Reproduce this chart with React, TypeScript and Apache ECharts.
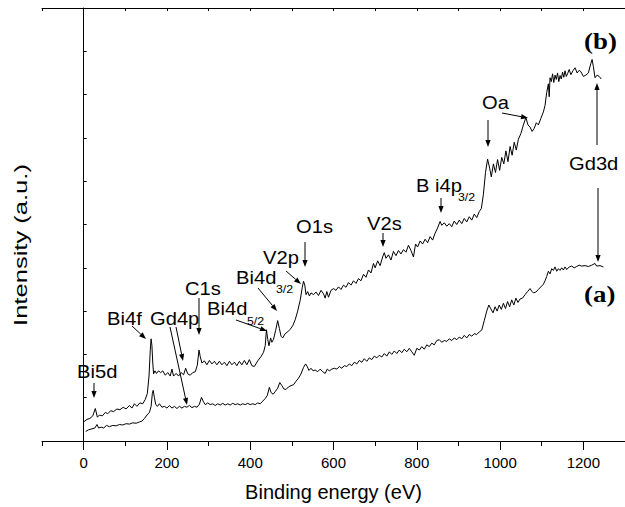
import React, { useEffect, useRef } from "react";
import * as echarts from "echarts";

// Curve (b): upper spectrum
const energyB = [0, 8, 15, 22, 28, 33, 38, 45, 52, 58, 65, 72, 80, 87, 95, 102, 110, 116, 122, 128, 135, 142, 148, 153, 157, 160, 162, 164, 166, 168, 171, 175, 180, 185, 190, 196, 202, 208, 212, 216, 222, 228, 234, 240, 245, 250, 256, 262, 268, 273, 277, 280, 284, 290, 296, 302, 308, 314, 320, 326, 332, 338, 344, 350, 356, 362, 368, 374, 380, 386, 392, 398, 404, 410, 418, 426, 432, 436, 439, 442, 445, 449, 452, 456, 461, 466, 470, 474, 478, 484, 490, 496, 502, 508, 514, 520, 525, 528, 531, 534, 538, 542, 546, 552, 558, 564, 570, 576, 580, 584, 588, 594, 600, 606, 612, 618, 624, 630, 636, 642, 648, 654, 660, 666, 672, 678, 684, 690, 696, 700, 706, 712, 718, 722, 726, 732, 738, 744, 750, 756, 762, 768, 774, 780, 786, 792, 797, 802, 808, 814, 820, 826, 832, 838, 844, 850, 856, 860, 866, 872, 878, 884, 890, 896, 902, 908, 914, 920, 926, 932, 938, 944, 950, 955, 960, 965, 970, 975, 979, 984, 989, 994, 999, 1004, 1009, 1014, 1019, 1024, 1029, 1034, 1039, 1044, 1050, 1056, 1062, 1067, 1072, 1077, 1082, 1087, 1092, 1098, 1104, 1108, 1112, 1116, 1118, 1120, 1123, 1126, 1129, 1132, 1135, 1138, 1141, 1144, 1147, 1150, 1153, 1156, 1159, 1162, 1166, 1170, 1175, 1180, 1185, 1190, 1194, 1200, 1206, 1212, 1218, 1221, 1224, 1228, 1233, 1238, 1243];
const intensityB = [0.44, 0.5, 0.52, 0.58, 0.75, 0.55, 0.6, 0.58, 0.66, 0.63, 0.7, 0.68, 0.74, 0.72, 0.78, 0.74, 0.82, 0.76, 0.86, 0.8, 0.88, 0.86, 0.96, 1.1, 1.5, 2.1, 2.36, 2.2, 1.8, 1.55, 1.62, 1.56, 1.62, 1.58, 1.62, 1.52, 1.58, 1.5, 1.66, 1.5, 1.56, 1.5, 1.58, 1.53, 1.68, 1.55, 1.52, 1.58, 1.6, 1.75, 2.1, 1.95, 1.8, 1.85, 1.76, 1.86, 1.78, 1.84, 1.76, 1.84, 1.76, 1.82, 1.74, 1.84, 1.76, 1.82, 1.74, 1.84, 1.76, 1.86, 1.76, 1.88, 1.74, 1.72, 1.85, 1.95, 2.05, 2.2, 2.57, 2.35, 2.2, 2.38, 2.28, 2.35, 2.55, 2.78, 2.6, 2.42, 2.38, 2.48, 2.52, 2.58, 2.66, 2.8, 3.0, 3.25, 3.55, 3.69, 3.6, 3.38, 3.45, 3.35, 3.42, 3.38, 3.44, 3.36, 3.48, 3.4, 3.3, 3.45, 3.32, 3.48, 3.52, 3.48, 3.56, 3.5, 3.6, 3.55, 3.66, 3.6, 3.7, 3.64, 3.75, 3.7, 3.85, 3.78, 3.95, 3.88, 4.1, 4.0, 4.16, 4.05, 4.25, 4.35, 4.22, 4.3, 4.18, 4.38, 4.28, 4.4, 4.32, 4.42, 4.36, 4.52, 4.4, 4.25, 4.55, 4.48, 4.62, 4.55, 4.66, 4.58, 4.72, 4.64, 4.8, 4.92, 5.07, 4.98, 5.04, 4.96, 5.02, 4.95, 5.08, 5.0, 5.1, 5.02, 5.14, 5.06, 5.18, 5.1, 5.24, 5.16, 5.3, 5.37, 5.7, 6.2, 6.51, 6.3, 6.1, 6.4, 6.2, 6.5, 6.25, 6.55, 6.4, 6.7, 6.45, 6.8, 6.6, 6.9, 6.72, 6.97, 7.1, 7.3, 7.47, 7.3, 7.25, 7.15, 7.22, 7.35, 7.3, 7.45, 7.6, 7.75, 8.05, 8.25, 7.95, 8.39, 8.3, 8.48, 8.28, 8.45, 8.35, 8.5, 8.3, 8.44, 8.36, 8.52, 8.4, 8.55, 8.42, 8.48, 8.58, 8.46, 8.55, 8.62, 8.5, 8.56, 8.53, 8.42, 8.45, 8.5, 8.72, 8.81, 8.65, 8.39, 8.45, 8.42, 8.36];

// Curve (a): lower spectrum
const energyA = [5, 12, 20, 27, 32, 36, 42, 48, 55, 62, 70, 78, 86, 94, 102, 110, 118, 126, 134, 140, 146, 152, 158, 162, 165, 167, 170, 173, 177, 182, 188, 194, 200, 206, 212, 218, 224, 230, 236, 242, 248, 254, 260, 266, 272, 278, 283, 287, 292, 298, 304, 310, 316, 322, 328, 334, 340, 346, 352, 358, 364, 370, 376, 382, 388, 394, 400, 406, 412, 418, 424, 430, 436, 441, 446, 450, 455, 460, 466, 471, 476, 481, 486, 492, 498, 504, 510, 516, 522, 528, 533, 537, 541, 546, 551, 556, 562, 568, 574, 580, 585, 590, 596, 602, 608, 614, 620, 626, 632, 638, 644, 650, 656, 662, 668, 674, 680, 686, 692, 698, 704, 710, 716, 722, 728, 734, 740, 746, 752, 758, 764, 770, 776, 782, 788, 794, 800, 806, 812, 818, 824, 830, 836, 842, 848, 854, 860, 866, 872, 878, 884, 890, 896, 902, 908, 914, 920, 926, 932, 938, 944, 950, 956, 962, 968, 973, 978, 983, 988, 993, 998, 1003, 1008, 1013, 1018, 1023, 1028, 1033, 1038, 1043, 1048, 1054, 1060, 1066, 1072, 1076, 1080, 1086, 1092, 1098, 1104, 1108, 1112, 1116, 1120, 1124, 1128, 1132, 1136, 1140, 1144, 1148, 1152, 1156, 1160, 1166, 1172, 1178, 1184, 1190, 1196, 1204, 1212, 1220, 1228, 1232, 1240, 1248];
const intensityA = [0.22, 0.26, 0.28, 0.3, 0.38, 0.3, 0.32, 0.3, 0.36, 0.33, 0.36, 0.35, 0.38, 0.37, 0.4, 0.39, 0.42, 0.41, 0.44, 0.46, 0.52, 0.6, 0.66, 0.8, 1.1, 1.17, 1.0, 0.85, 0.8, 0.86, 0.78, 0.8, 0.76, 0.82, 0.76, 0.8, 0.75, 0.8, 0.76, 0.8, 0.78, 0.82, 0.77, 0.8, 0.78, 0.85, 1.01, 0.92, 0.84, 0.88, 0.84, 0.86, 0.82, 0.86, 0.83, 0.87, 0.83, 0.86, 0.83, 0.87, 0.84, 0.86, 0.83, 0.86, 0.84, 0.87, 0.84, 0.86, 0.84, 0.88, 0.86, 0.92, 0.98, 1.05, 1.24, 1.12, 1.08, 1.14, 1.22, 1.35, 1.28, 1.2, 1.19, 1.25, 1.28, 1.3, 1.38, 1.45, 1.55, 1.7, 1.78, 1.72, 1.63, 1.68, 1.62, 1.64, 1.6, 1.66, 1.6, 1.56, 1.66, 1.62, 1.66, 1.68, 1.66, 1.72, 1.68, 1.74, 1.72, 1.78, 1.74, 1.82, 1.78, 1.86, 1.82, 1.9, 1.84, 1.92, 1.88, 1.96, 1.92, 1.98, 1.94, 2.02, 1.96, 2.06, 2.0, 2.08, 2.02, 2.1, 2.04, 2.12, 2.06, 2.14, 2.06, 1.98, 2.14, 2.1, 2.18, 2.12, 2.22, 2.18, 2.26, 2.22, 2.32, 2.34, 2.28, 2.32, 2.3, 2.36, 2.32, 2.38, 2.34, 2.4, 2.36, 2.44, 2.38, 2.46, 2.42, 2.48, 2.46, 2.52, 2.56, 2.78, 3.0, 3.14, 3.05, 2.96, 3.1, 3.0, 3.14, 3.04, 3.18, 3.06, 3.22, 3.1, 3.26, 3.14, 3.3, 3.2, 3.28, 3.3, 3.38, 3.45, 3.52, 3.46, 3.42, 3.44, 3.5, 3.56, 3.62, 3.7, 3.8, 3.92, 3.86, 3.98, 3.94, 4.02, 3.92, 3.98, 3.94, 4.0, 3.95, 4.02, 3.96, 4.02, 4.04, 4.0, 4.03, 4.06, 4.04, 4.05, 4.03, 4.06, 4.1, 4.04, 4.05, 4.02];

const xLabelValues = [0, 200, 400, 600, 800, 1000, 1200];
const xMinorValues = [-100, 100, 300, 500, 700, 900, 1100, 1300];

const SANS = "'Liberation Sans', Arial, Helvetica, sans-serif";
const SERIF = "'Liberation Serif', 'Times New Roman', serif";

function arrow(x1: number, y1: number, x2: number, y2: number): any[] {
  const dx = x2 - x1;
  const dy = y2 - y1;
  const L = Math.hypot(dx, dy);
  const ux = dx / L;
  const uy = dy / L;
  const hl = 7;
  const hw = 2.6;
  const bx = x2 - ux * hl;
  const by = y2 - uy * hl;
  const px = -uy * hw;
  const py = ux * hw;
  return [
    { type: "line", silent: true, z: 100, shape: { x1, y1, x2: bx, y2: by }, style: { stroke: "#000", lineWidth: 1 } },
    { type: "polygon", silent: true, z: 100, shape: { points: [[x2, y2], [bx + px, by + py], [bx - px, by - py]] }, style: { fill: "#000" } },
  ];
}

function label(text: string, x: number, y: number, size = 18, extra: any = {}, sx = 1.12): any {
  return {
    type: "text",
    silent: true,
    z: 100,
    x,
    y,
    scaleX: sx,
    style: { text, fontSize: size, fontFamily: SANS, fill: "#000", textAlign: "left", textVerticalAlign: "middle", ...extra },
  };
}

export default function App() {
  const ref = useRef<HTMLDivElement>(null);
  useEffect(() => {
    if (!ref.current) return;
    const chart = echarts.init(ref.current, null, { renderer: "svg" });
    const dataB = energyB.map((e, i) => [e, intensityB[i]]);
    const dataA = energyA.map((e, i) => [e, intensityA[i]]);

    const graphics: any[] = [
      {
        type: "text",
        silent: true,
        x: 21,
        y: 245,
        rotation: Math.PI / 2,
        scaleX: 1.42,
        style: { text: "Intensity (a.u.)", fontSize: 18, fontFamily: SANS, fill: "#000", textAlign: "center", textVerticalAlign: "middle" },
      },
      label("Bi5d", 77, 371.5),
      ...arrow(94, 383, 94, 398),
      label("Bi4f", 107, 319),
      ...arrow(132, 326, 146, 339),
      label("Gd4p", 150, 319),
      ...arrow(176, 327, 183, 361),
      ...arrow(170, 327, 187, 405),
      label("C1s", 185, 289),
      ...arrow(199, 298, 199, 335),
      label("Bi4d", 207, 309),
      label("5/2", 247, 321, 11),
      ...arrow(236, 320, 267, 331),
      label("Bi4d", 236, 277.5),
      label("3/2", 276, 289, 11),
      ...arrow(258, 288, 277, 311),
      label("V2p", 263, 258),
      ...arrow(286, 271, 301, 284),
      label("O1s", 296, 227),
      ...arrow(305, 242, 305, 267),
      label("V2s", 367, 224),
      ...arrow(383, 233, 383, 247),
      label("B i4p", 416, 186),
      label("3/2", 458, 197, 11),
      ...arrow(441, 198, 441, 213),
      label("Oa", 482, 102.5),
      ...arrow(488, 120, 488, 147),
      ...arrow(502, 113, 528, 118),
      label("Gd3d", 569, 164),
      ...arrow(597, 145, 597, 83),
      ...arrow(598, 188, 598, 262),
      label("(b)", 584, 41, 24, { fontFamily: SERIF, fontWeight: "bold" }),
      label("(a)", 584, 294, 24, { fontFamily: SERIF, fontWeight: "bold" }),
    ];

    chart.setOption({
      animation: false,
      backgroundColor: "#fff",
      grid: { left: 42, right: -2, top: 8, bottom: 63, containLabel: false },
      xAxis: [
        {
          type: "value",
          position: "bottom",
          min: -100,
          max: 1300,
          interval: 100,
          name: "Binding energy (eV)",
          nameLocation: "middle",
          nameGap: 41,
          nameTextStyle: { fontSize: 20, fontFamily: SANS, color: "#000" },
          axisLine: { show: true, lineStyle: { color: "#000", width: 1 } },
          axisTick: { show: true, inside: false, length: 9, customValues: xLabelValues, lineStyle: { color: "#000", width: 1 } },
          axisLabel: {
            show: true,
            customValues: xLabelValues,
            formatter: (v: number) => String(v),
            fontSize: 15,
            fontFamily: SANS,
            color: "#000",
            margin: 14,
          },
          splitLine: { show: false },
        },
        {
          type: "value",
          position: "bottom",
          min: -100,
          max: 1300,
          interval: 100,
          axisLine: { show: false },
          axisTick: { show: true, inside: false, length: 5, customValues: xMinorValues, lineStyle: { color: "#000", width: 1 } },
          axisLabel: { show: false },
          splitLine: { show: false },
        },
        {
          type: "value",
          position: "top",
          min: -100,
          max: 1300,
          interval: 100,
          axisLine: { show: true, lineStyle: { color: "#000", width: 1 } },
          axisTick: { show: true, inside: true, length: 3, lineStyle: { color: "#000", width: 1 } },
          axisLabel: { show: false },
          splitLine: { show: false },
        },
      ],
      yAxis: {
        type: "value",
        min: 0,
        max: 10,
        interval: 1,
        axisLine: { show: true, lineStyle: { color: "#000", width: 1 } },
        axisTick: { show: true, inside: true, length: 3, lineStyle: { color: "#000", width: 1 } },
        axisLabel: { show: false },
        splitLine: { show: false },
      },
      series: [
        {
          name: "(b)",
          type: "line",
          xAxisIndex: 0,
          data: dataB,
          showSymbol: false,
          symbol: "none",
          lineStyle: { color: "#000", width: 1 },
        },
        {
          name: "(a)",
          type: "line",
          xAxisIndex: 0,
          data: dataA,
          showSymbol: false,
          symbol: "none",
          lineStyle: { color: "#000", width: 1 },
        },
      ],
      graphic: graphics,
    });
    return () => chart.dispose();
  }, []);
  return <div ref={ref} style={{ position: "fixed", left: 0, top: 0, width: 625, height: 507 }} />;
}
